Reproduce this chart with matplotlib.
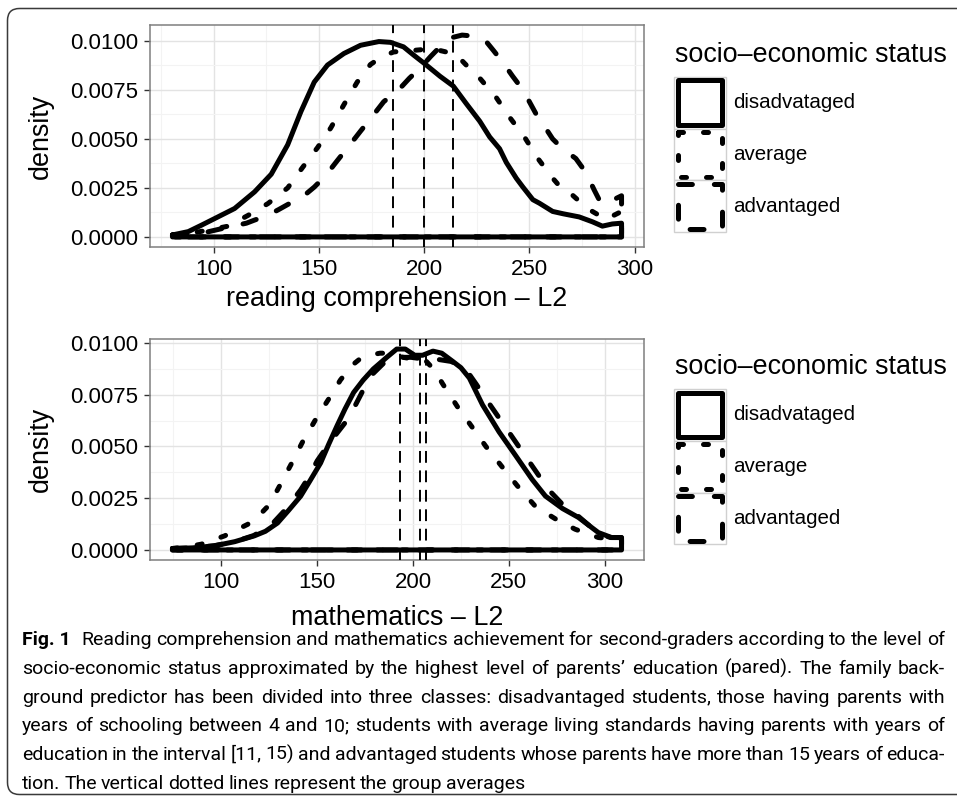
import matplotlib
matplotlib.use("Agg")
import matplotlib.pyplot as plt
from matplotlib.patches import Rectangle, FancyBboxPatch
from matplotlib.ticker import FormatStrFormatter, MultipleLocator

# --- DATOS ---
groups = ["disadvataged", "average", "advantaged"]

# reading comprehension - L2
read_dis_x = [80.5, 88, 94.3, 100.6, 110, 119.5, 127.4, 135.2, 141.5, 147.8, 154.1, 161.9, 169.8,
              178.5, 184, 190.2, 195, 200, 207.5, 213.8, 220, 226.4, 231.1, 235.8, 239, 243.7, 246.9,
              251.6, 254.7, 261, 266, 273.6, 279.9, 284.6, 289.3, 293.7]
read_dis_y = [0.0001, 0.00027, 0.0006, 0.00094, 0.00145, 0.0023, 0.0032, 0.0047, 0.0064, 0.0079,
              0.00877, 0.00936, 0.00978, 0.00997, 0.00993, 0.0097, 0.00928, 0.00886, 0.0082, 0.0077,
              0.0068, 0.0059, 0.0051, 0.0045, 0.0038, 0.0030, 0.00254, 0.0019, 0.00172, 0.0013,
              0.00118, 0.00102, 0.00077, 0.00055, 0.00066, 0.0007]
read_avg_x = [80.5, 90, 100, 107, 116.4, 125.8, 135.2, 142.3, 149.4, 155.7, 161.9, 168.2, 174.5, 180,
              185.5, 195, 203.6, 208, 212, 217, 221.5, 226.4, 234.3, 240.6, 247.6, 254, 261, 265,
              269.7, 277.5, 286.2, 290, 293.7]
read_avg_y = [0.0001, 0.0002, 0.0004, 0.00055, 0.0011, 0.0017, 0.0025, 0.00355, 0.00456, 0.00557,
              0.00675, 0.0079, 0.0088, 0.0092, 0.00944, 0.00952, 0.0096, 0.0095, 0.0094, 0.0091,
              0.0086, 0.0081, 0.0071, 0.0061, 0.0051, 0.0040, 0.0030, 0.0025, 0.0022, 0.00145,
              0.0009, 0.0011, 0.0013]
read_adv_x = [80.5, 95, 107, 115.6, 119.5, 125.8, 131, 136, 140, 144, 147.8, 153, 158.8, 164, 169.8,
              175, 180.8, 188.7, 193, 198, 203, 207.5, 212.3, 218, 223.3, 229.6, 233, 237.4, 242,
              246.9, 254, 257, 261, 265.7, 272, 276.7, 280.7, 284, 288, 293.7]
read_adv_y = [0.0001, 0.0002, 0.0005, 0.0007, 0.00086, 0.0011, 0.0014, 0.0017, 0.0020, 0.0022,
              0.00254, 0.0031, 0.0039, 0.0046, 0.0054, 0.0061, 0.0069, 0.0076, 0.0081, 0.0086,
              0.0092, 0.0097, 0.01015, 0.0103, 0.01025, 0.00995, 0.0095, 0.0089, 0.0082, 0.0075,
              0.0061, 0.00566, 0.0050, 0.0045, 0.0040, 0.0033, 0.0024, 0.0017, 0.0018, 0.0021]
read_means = [185.2, 200.0, 213.8]

# mathematics - L2
math_dis_x = [74.5, 85, 96.5, 107, 117.2, 123, 129.3, 135, 141.4, 146, 151.8, 156, 160.4, 164.5, 169,
              174, 179.3, 186.3, 191.5, 196, 200.9, 205, 210.4, 215, 220.8, 225, 229.4, 236.3, 244.9,
              253.6, 262.2, 269.1, 278, 286.3, 296.7, 303.6, 308.8]
math_dis_y = [0.00007, 0.0001, 0.0002, 0.0004, 0.00068, 0.0009, 0.0013, 0.0019, 0.0026, 0.0033,
              0.0042, 0.0051, 0.0060, 0.0068, 0.0076, 0.0082, 0.00874, 0.0093, 0.0097, 0.0097,
              0.0094, 0.0094, 0.0096, 0.0095, 0.0091, 0.0088, 0.0083, 0.0070, 0.0057, 0.00455,
              0.0034, 0.0026, 0.0020, 0.00157, 0.00084, 0.0006, 0.0006]
math_avg_x = [74.5, 82, 89.6, 101.7, 113.8, 119, 124.2, 129.3, 136.2, 142.3, 149.2, 156.1, 162.1, 168,
              172, 177, 182.8, 188, 194.9, 201, 207, 211, 215.6, 223.3, 231.1, 238, 246.6, 254.4,
              263.9, 274.3, 284.6, 296.7, 308.8]
math_avg_y = [0.00007, 0.00015, 0.00028, 0.00068, 0.00124, 0.0016, 0.0021, 0.0029, 0.0041, 0.0052,
              0.0063, 0.0073, 0.0082, 0.0089, 0.0092, 0.0094, 0.0095, 0.0095, 0.0093, 0.0092,
              0.0091, 0.0087, 0.0080, 0.0069, 0.0059, 0.0050, 0.0040, 0.0031, 0.0021, 0.0015,
              0.0010, 0.0006, 0.0005]
math_adv_x = [74.5, 85, 96, 107, 117, 126, 134, 141.4, 145.5, 150, 155.2, 160, 165.9, 170, 175, 179,
              184.5, 191.5, 199, 207, 213, 220, 227.7, 233, 238, 249.2, 259.6, 270.8, 278, 285.3,
              296.7, 303, 308.8]
math_adv_y = [0.00007, 0.0001, 0.0002, 0.0004, 0.0007, 0.0012, 0.0020, 0.0029, 0.0035, 0.0043,
              0.0050, 0.0056, 0.0063, 0.0070, 0.0079, 0.0085, 0.0090, 0.0093, 0.0093, 0.0092,
              0.0092, 0.0091, 0.0087, 0.0080, 0.0073, 0.0058, 0.0044, 0.0029, 0.0022, 0.0017,
              0.0008, 0.0006, 0.0006]
math_means = [203.5, 193.2, 206.6]

x_ticks = [100, 150, 200, 250, 300]
y_ticks = [0.0, 0.0025, 0.005, 0.0075, 0.01]

legend_title = "socio\u2013economic status"
caption_label = "Fig. 1"
caption_lines = [
    "Reading comprehension and mathematics achievement for second-graders according to the level of",
    "socio-economic status approximated by the highest level of parents\u2019 education (pared). The family back-",
    "ground predictor has been divided into three classes: disadvantaged students, those having parents with",
    "years of schooling between 4 and 10; students with average living standards having parents with years of",
    "education in the interval [11, 15) and advantaged students whose parents have more than 15 years of educa-",
    "tion. The vertical dotted lines represent the group averages",
]

# --- ESTILO ---
plt.rcParams['font.family'] = ['Liberation Sans', 'DejaVu Sans']
plt.rcParams['lines.scale_dashes'] = False
W, H = 957, 797
LW = 3.6
STYLES = {"disadvataged": "-", "average": (0, (3.6, 14.4)), "advantaged": (0, (10.0, 15.8))}


def px_axes(l, t, r, b):
    return [l / W, 1 - b / H, (r - l) / W, (b - t) / H]


def density_panel(ax, curves, means, xlabel):
    for (xs, ys), g in zip(curves, groups):
        px = list(xs) + [xs[-1], xs[0], xs[0]]
        py = list(ys) + [0.0, 0.0, ys[0]]
        ax.plot(px, py, color='black', lw=LW, linestyle=STYLES[g],
                solid_capstyle='round', dash_capstyle='round',
                solid_joinstyle='round', dash_joinstyle='round', zorder=3)
    for m in means:
        ax.axvline(m, color='black', lw=1.4, linestyle=(0, (8.5, 5.5)), zorder=4)
    ax.set_xticks(x_ticks)
    ax.set_yticks(y_ticks)
    ax.xaxis.set_minor_locator(MultipleLocator(25))
    ax.yaxis.set_minor_locator(MultipleLocator(0.00125))
    ax.yaxis.set_major_formatter(FormatStrFormatter('%.4f'))
    ax.grid(which='major', color='#e3e3e3', lw=1.0)
    ax.grid(which='minor', color='#f3f3f3', lw=0.8)
    ax.set_axisbelow(True)
    ax.tick_params(which='minor', length=0)
    ax.tick_params(which='major', length=4.3, width=1.0, color='#333333', labelsize=16,
                   labelcolor='black', pad=4)
    for s in ax.spines.values():
        s.set_color('#7f7f7f')
        s.set_linewidth(1.1)
    ax.set_ylabel("density", fontsize=19.4, va='center')
    ax.yaxis.set_label_coords(-0.221, 0.5)
    ax.set_xlabel(xlabel, fontsize=19.4, va='center')


def draw_legend(ov, base):
    ov.text(675, base, legend_title, fontsize=19.4, ha='left', va='baseline')
    key = 51.8
    k0 = base + 15
    for i, g in enumerate(groups):
        y = k0 + i * key
        ov.add_patch(Rectangle((673.5, y), 52.5, key, facecolor='white', edgecolor='#d0d0d0', lw=1.0))
        ov.add_patch(Rectangle((677.5, y + 3.6), 44.5, key - 7.2, fill=False, edgecolor='black',
                               lw=LW, linestyle=STYLES[g], capstyle='round', joinstyle='round'))
        ov.text(733, y + key / 2, g, fontsize=14.75, ha='left', va='center')


fig = plt.figure(figsize=(W / 100, H / 100), dpi=100)
fig.patch.set_facecolor('white')

ov = fig.add_axes([0, 0, 1, 1])
ov.set_xlim(0, W)
ov.set_ylim(H, 0)
ov.axis('off')
ov.add_patch(FancyBboxPatch((7.5, 8.5), 1000, 786, boxstyle="round,pad=0,rounding_size=12",
                            facecolor='none', edgecolor='#3a3a3a', lw=1.1, clip_on=False))

ax1 = fig.add_axes(px_axes(150, 25, 644, 247))
density_panel(ax1, [(read_dis_x, read_dis_y), (read_avg_x, read_avg_y), (read_adv_x, read_adv_y)],
              read_means, "reading comprehension \u2013 L2")
ax1.xaxis.set_label_coords(0.5, -0.234)

ax2 = fig.add_axes(px_axes(150, 339, 644, 560))
density_panel(ax2, [(math_dis_x, math_dis_y), (math_avg_x, math_avg_y), (math_adv_x, math_adv_y)],
              math_means, "mathematics \u2013 L2")
ax2.xaxis.set_label_coords(0.5, -0.262)

draw_legend(ov, 61.7)
draw_legend(ov, 374)

# --- PIE DE FIGURA (justificado) ---
cap_family = ['Roboto', 'Open Sans', 'Liberation Sans', 'DejaVu Sans']
r = fig.canvas.get_renderer()
x0, x1 = 22, 945
label_gap = 6
baselines = [645, 673.8, 702.6, 731.4, 760.2, 789]


def line_tokens(i):
    toks = [(w, 'normal') for w in caption_lines[i].split(' ')]
    if i == 0:
        toks = [(caption_label, 'bold')] + toks
    return toks


def word_widths(toks, size):
    ws = []
    for word, weight in toks:
        t = ov.text(0, 0, word, fontsize=size, fontweight=weight, family=cap_family)
        ws.append(t.get_window_extent(r).width)
        t.remove()
    return ws


# el tamano mas grande que deja al menos ~3.5 px entre palabras
cap_size = 15.0
while cap_size > 10:
    ok = True
    for i in range(5):
        toks = line_tokens(i)
        ws = word_widths(toks, cap_size)
        extra = label_gap if i == 0 else 0
        if (x1 - x0 - sum(ws) - extra) / (len(ws) - 1) < 3.5:
            ok = False
            break
    if ok:
        break
    cap_size -= 0.25

for i in range(len(caption_lines)):
    toks = line_tokens(i)
    extra = [0] * len(toks)
    if i == 0:
        extra[0] = label_gap
    arts = [ov.text(0, baselines[i], w, fontsize=cap_size, fontweight=wt, family=cap_family,
                    ha='left', va='baseline') for w, wt in toks]
    ws = [a.get_window_extent(r).width for a in arts]
    if i < 5:
        gap = (x1 - x0 - sum(ws) - sum(extra)) / (len(arts) - 1)
    else:
        gap = 4.0
    x = x0
    for a, w, e in zip(arts, ws, extra):
        a.set_x(x)
        x += w + gap + e

fig.savefig("out.png", dpi=100, facecolor='white')
